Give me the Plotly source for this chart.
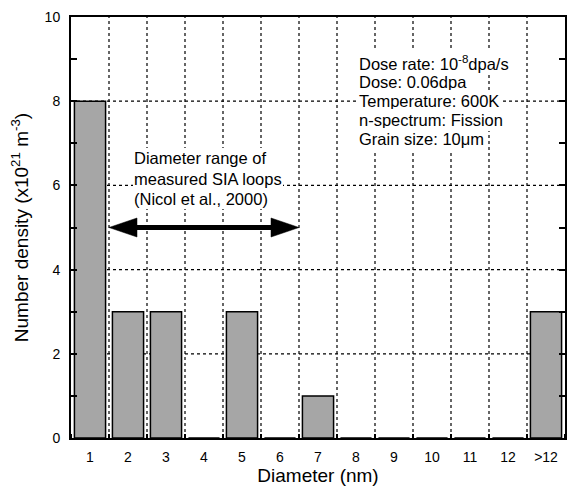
import plotly.graph_objects as go

# Loop diameter bins (nm) and simulated number density (x10^21 m^-3)
diameter_labels = ["1", "2", "3", "4", "5", "6", "7", "8", "9", "10", "11", "12", ">12"]
number_density = [8, 3, 3, 0, 3, 0, 1, 0, 0, 0, 0, 0, 3]

# Measured SIA loop range (bin boundaries, in bin-index units) and the arrow height
measured_range = (0.5, 5.5)
arrow_level = 5

y_grid_values = [2, 4, 6, 8]

range_note = ["Diameter range of", "measured SIA loops", "(Nicol et al., 2000)"]
conditions = [
    "Dose rate: 10<sup>-8</sup>dpa/s",
    "Dose: 0.06dpa",
    "Temperature: 600K",
    "n-spectrum: Fission",
    "Grain size: 10μm",
]

positions = list(range(len(diameter_labels)))
FONT = "Liberation Sans, Arial, sans-serif"

fig = go.Figure()
fig.add_trace(go.Bar(
    x=positions,
    y=number_density,
    width=0.82,
    marker=dict(color="#a6a6a6", line=dict(color="black", width=1.5)),
    hoverinfo="skip",
))

fig.update_layout(
    width=574,
    height=488,
    margin=dict(l=71, r=7, t=17, b=50),
    paper_bgcolor="white",
    plot_bgcolor="rgba(0,0,0,0)",
    showlegend=False,
    font=dict(family=FONT, size=14, color="black"),
    xaxis=dict(
        range=[-0.5, len(diameter_labels) - 0.5],
        tickmode="array",
        tickvals=positions,
        ticktext=diameter_labels,
        ticks="",
        showgrid=False,
        zeroline=False,
        showline=True,
        linecolor="black",
        linewidth=2,
        mirror=True,
        ticklabelstandoff=5,
        tickfont=dict(size=14),
        minor=dict(
            tickmode="linear",
            tick0=0.5,
            dtick=1,
            ticks="inside",
            ticklen=4,
            tickwidth=2,
            tickcolor="black",
            showgrid=False,
        ),
        title=dict(text="Diameter (nm)", font=dict(size=19), standoff=3),
    ),
    yaxis=dict(
        range=[0, 10],
        tickmode="linear",
        tick0=0,
        dtick=2,
        ticks="inside",
        ticklen=6,
        tickwidth=2,
        tickcolor="black",
        showgrid=False,
        zeroline=False,
        showline=True,
        linecolor="black",
        linewidth=2,
        mirror="ticks",
        ticklabelstandoff=6,
        tickfont=dict(size=14),
        minor=dict(
            tickmode="linear",
            tick0=0,
            dtick=1,
            ticks="inside",
            ticklen=6,
            tickwidth=2,
            tickcolor="black",
            showgrid=False,
        ),
        title=dict(text="Number density (x10<sup>21</sup> m<sup>-3</sup>)",
                   font=dict(size=19), standoff=11),
    ),
)

# Dotted grid: vertical lines on the bin boundaries, horizontal on the major y ticks
for p in positions[:-1]:
    fig.add_shape(
        type="line", layer="between", xref="x", yref="paper",
        x0=p + 0.5, x1=p + 0.5, y0=0, y1=1,
        line=dict(color="black", width=1.2, dash="dot"),
    )
for v in y_grid_values:
    fig.add_shape(
        type="line", layer="between", xref="paper", yref="y",
        x0=0, x1=1, y0=v, y1=v,
        line=dict(color="black", width=1.2, dash="dot"),
    )

# Double-headed arrow marking the measured diameter range
head_len, head_half = 28, 9.5
inset = 0.3
fig.add_shape(
    type="line", xref="x", yref="y",
    x0=measured_range[0] + inset, x1=measured_range[1] - inset,
    y0=arrow_level, y1=arrow_level,
    line=dict(color="black", width=5),
)
for anchor, sign in ((measured_range[0], 1), (measured_range[1], -1)):
    fig.add_shape(
        type="path", xref="x", yref="y",
        xsizemode="pixel", ysizemode="pixel",
        xanchor=anchor, yanchor=arrow_level,
        path=f"M0,0 L{sign * head_len},{head_half} L{sign * head_len},{-head_half} Z",
        fillcolor="black",
        line=dict(color="black", width=0.5),
    )


def add_text_block(lines, x, y, spacing, pad):
    """Left-aligned block of text lines on a white background, fixed line pitch."""
    for i, line in enumerate(lines):
        fig.add_annotation(
            xref="paper", yref="paper", x=x, y=y, yshift=-i * spacing,
            xanchor="left", yanchor="middle", align="left",
            text=line, showarrow=False, bgcolor="white",
            borderpad=pad, borderwidth=0,
            font=dict(size=16.5, family=FONT),
        )


add_text_block(range_note, 0.125, 0.665, 20.5, 1)
add_text_block(conditions, 0.578, 0.891, 19, 2)

fig.write_html("out.html")
